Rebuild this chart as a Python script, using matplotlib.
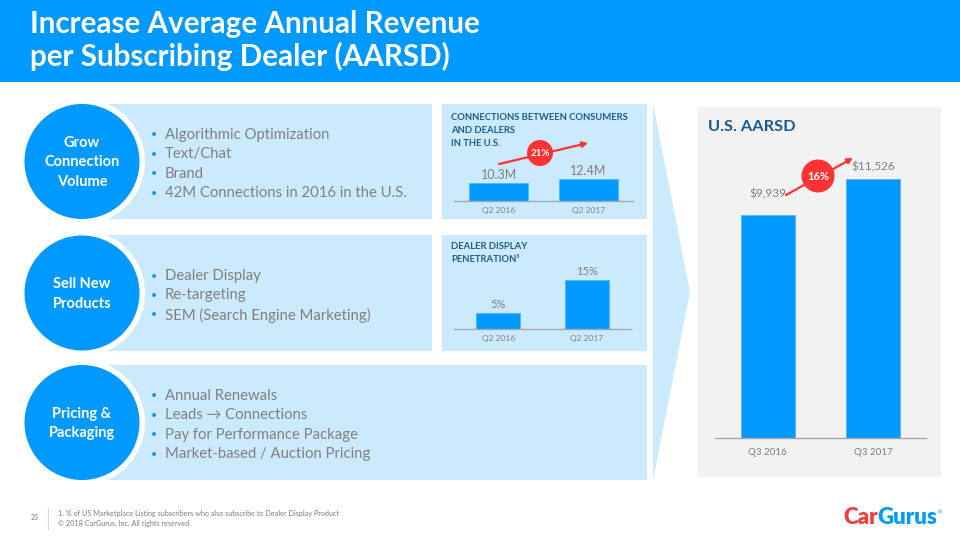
import matplotlib
matplotlib.use("Agg")
import matplotlib.pyplot as plt
from matplotlib.patches import Rectangle, Circle, Polygon

plt.rcParams["font.family"] = ["Lato", "DejaVu Sans"]

# data
aarsd_quarters = ["Q3 2016", "Q3 2017"]
aarsd_values = [9939, 11526]
aarsd_labels = ["$9,939", "$11,526"]
aarsd_growth = "16%"

conn_quarters = ["Q2 2016", "Q2 2017"]
conn_values = [10.3, 12.4]
conn_labels = ["10.3M", "12.4M"]
conn_growth = "21%"

display_quarters = ["Q2 2016", "Q2 2017"]
display_values = [5, 15]
display_labels = ["5%", "15%"]

levers = [
    "Grow\nConnection\nVolume",
    "Sell New\nProducts",
    "Pricing &\nPackaging",
]
lever_bullets = [
    ["Algorithmic Optimization", "Text/Chat", "Brand",
     "42M Connections in 2016 in the U.S."],
    ["Dealer Display", "Re-targeting", "SEM (Search Engine Marketing)"],
    ["Annual Renewals", "Leads \u2192 Connections",
     "Pay for Performance Package", "Market-based / Auction Pricing"],
]

BLUE = "#0099FF"
LIGHT = "#CCEAFD"
NAVY = "#1D5B8C"
GRAY = "#7F7F7F"
RED = "#FF3333"

W, H = 960, 540
fig = plt.figure(figsize=(9.6, 5.4), dpi=100)
bg = fig.add_axes([0, 0, 1, 1])
bg.set_xlim(0, W)
bg.set_ylim(H, 0)
bg.axis("off")


def px_axes(x0, x1, y_top, y_bot):
    return fig.add_axes([x0 / W, 1 - y_bot / H, (x1 - x0) / W, (y_bot - y_top) / H])


# title banner
bg.add_patch(Rectangle((0, 0), W, 82, color=BLUE, lw=0))
bg.text(30, 40.5, "Increase Average Annual Revenue\nper Subscribing Dealer (AARSD)",
        color="white", fontsize=21.3, fontweight="bold", va="center",
        linespacing=1.18)

# left panels with circles
panel_rows = [(104, 219, 432), (235, 351, 432), (365, 480, 647)]
for (top, bot, right), name, bullets in zip(panel_rows, levers, lever_bullets):
    bg.add_patch(Rectangle((105, top), right - 105, bot - top, color=LIGHT, lw=0))
    cy = (top + bot) / 2
    bg.add_patch(Circle((82, cy), 63, color="white", lw=0))
    bg.add_patch(Circle((82, cy), 57.5, color=BLUE, lw=0))
    bg.text(82, cy + 1, name, color="white", fontsize=10.5, fontweight="bold",
            ha="center", va="center", linespacing=1.5)
    n = len(bullets)
    for i, b in enumerate(bullets):
        y = cy + 2.5 + (i - (n - 1) / 2) * 19.5
        bg.text(151, y, "\u2022", color=BLUE, fontsize=7.5, va="center")
        bg.text(165, y, b, color=GRAY, fontsize=10.7, va="center")

# small chart panels
bg.add_patch(Rectangle((442, 104), 205, 115, color=LIGHT, lw=0))
bg.add_patch(Rectangle((442, 235), 205, 116, color=LIGHT, lw=0))
bg.text(451, 130.5, "CONNECTIONS BETWEEN CONSUMERS\nAND DEALERS\nIN THE U.S.",
        color=NAVY, fontsize=6.8, fontweight="bold", va="center", linespacing=1.55)
bg.text(451, 253, "DEALER DISPLAY\nPENETRATION\u00b9",
        color=NAVY, fontsize=6.8, fontweight="bold", va="center", linespacing=1.55)

# chevron
bg.add_patch(Polygon([(653, 104), (690, 292), (653, 480)], closed=True,
                     color=LIGHT, lw=0))

# right gray panel
bg.add_patch(Rectangle((698, 107), 243, 370, color="#F2F2F2", lw=0))
bg.text(708, 127, "U.S. AARSD", color=NAVY, fontsize=11.8, fontweight="bold",
        va="center")


def bar_chart(ax, cats, vals, labels, width, ymax, fs, lfs, pad, offsets):
    ax.bar(range(len(vals)), vals, width=width, color=BLUE,
           edgecolor="#4DB8FF", lw=0.6)
    ax.set_xlim(-0.5, len(vals) - 0.5)
    ax.set_ylim(0, ymax)
    ax.patch.set_visible(False)
    for s in ["top", "left", "right"]:
        ax.spines[s].set_visible(False)
    ax.spines["bottom"].set_color("#A6A6A6")
    ax.spines["bottom"].set_linewidth(1.0)
    ax.set_yticks([])
    ax.set_xticks(range(len(vals)))
    ax.set_xticklabels(cats, color=GRAY, fontsize=fs)
    ax.tick_params(axis="x", length=0, pad=pad)
    for i, (v, lab) in enumerate(zip(vals, labels)):
        ax.annotate(lab, (i, v), xytext=(0, offsets[i]), textcoords="offset points",
                    ha="center", va="bottom", color=GRAY, fontsize=lfs)


ax_conn = px_axes(454, 633, 150, 201)
bar_chart(ax_conn, conn_quarters, conn_values, conn_labels, 0.66,
          51 * 10.3 / 18, 6, 9, 4, [1.5, 1.5])

ax_disp = px_axes(454, 631, 260, 329)
bar_chart(ax_disp, display_quarters, display_values, display_labels, 0.5,
          69 * 5 / 16.5, 6, 8, 4, [2, 2])

ax_aarsd = px_axes(715, 926, 140, 438)
bar_chart(ax_aarsd, aarsd_quarters, aarsd_values, aarsd_labels, 0.51,
          298 * 9939 / 223, 7, 8.5, 7, [11, 5])

# growth arrows
for (x0, y0), (x1, y1), (cx, cy), r, txt, fs in [
        ((499, 164), (588, 143), (540, 153), 13, conn_growth, 7),
        ((786, 195), (853, 158), (818, 176), 16.5, aarsd_growth, 8)]:
    bg.annotate("", xy=(x1, y1), xytext=(x0, y0),
                arrowprops=dict(arrowstyle="-|>", color=RED, lw=1.6,
                                mutation_scale=8, shrinkA=0, shrinkB=0))
    bg.add_patch(Circle((cx, cy), r, color=RED, lw=0, zorder=5))
    bg.text(cx, cy, txt, color="white", fontsize=fs, fontweight="bold",
            ha="center", va="center", zorder=6)

# footer
bg.text(35, 518, "23", color=GRAY, fontsize=5, ha="center", va="center")
bg.plot([48, 48], [508, 529], color="#D9D9D9", lw=0.8)
bg.text(58, 518.5, "1. % of US Marketplace Listing subscribers who also subscribe to Dealer Display Product\n"
        "\u00a9 2018 CarGurus, Inc. All rights reserved.",
        color=GRAY, fontsize=5.2, va="center", linespacing=1.45)

# logo
t = bg.text(843, 518, "Car", color="#F23D3D", fontsize=16, fontweight="heavy",
            va="center")
fig.canvas.draw()
bb = t.get_window_extent()
x_end = bg.transData.inverted().transform((bb.x1, bb.y0))[0]
t2 = bg.text(x_end, 518, "Gurus", color=BLUE, fontsize=16, fontweight="heavy",
             va="center")
fig.canvas.draw()
bb2 = t2.get_window_extent()
x_end2 = bg.transData.inverted().transform((bb2.x1, bb2.y0))[0]
bg.text(x_end2 + 0.5, 513, "\u00ae", color=BLUE, fontsize=4, va="center")

fig.savefig("out.png", dpi=100)
